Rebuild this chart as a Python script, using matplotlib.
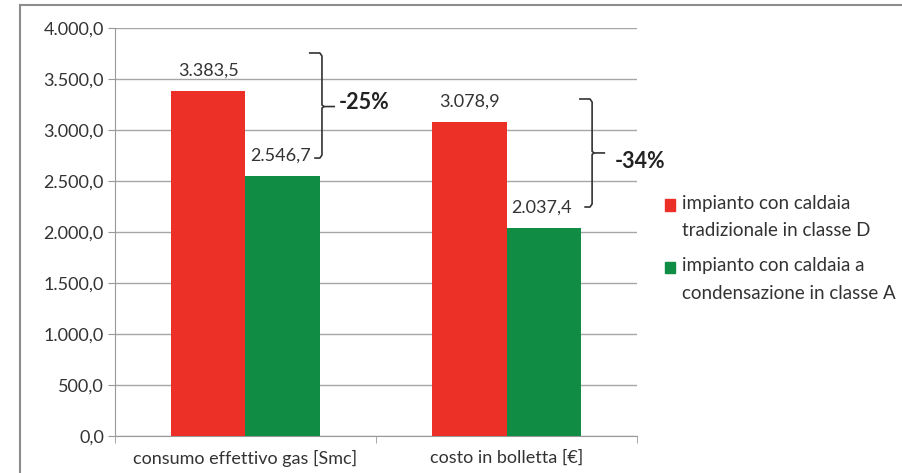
import matplotlib
matplotlib.use("Agg")
import matplotlib.pyplot as plt
from matplotlib.lines import Line2D
from matplotlib.patches import Rectangle
from matplotlib.legend_handler import HandlerPatch
import numpy as np

plt.rcParams['font.family'] = ['Lato', 'DejaVu Sans']

categories = ["consumo effettivo gas [Smc]", "costo in bolletta [€]"]
series_names = ["impianto con caldaia\ntradizionale in classe D",
                "impianto con caldaia a\ncondensazione in classe A"]
tradizionale = [3383.5, 3078.9]
condensazione = [2546.7, 2037.4]
reductions = ["-25%", "-34%"]
y_ticks = [0, 500, 1000, 1500, 2000, 2500, 3000, 3500, 4000]

red = "#ec3028"
green = "#108c44"


def fmt_it(v):
    # italian number format: 3.383,5
    s = "{:,.1f}".format(v)
    return s.replace(",", "X").replace(".", ",").replace("X", ".")


def top_square(legend, orig_handle, xdescent, ydescent, width, height, fontsize):
    # legend square next to the first line of a 2-line label
    return Rectangle((-xdescent, -ydescent + 9.0), width, height)


W, H = 903, 473
fig = plt.figure(figsize=(W / 100, H / 100), dpi=100)
ax = fig.add_axes([115 / W, 1 - 436 / H, (637 - 115) / W, (436 - 28) / H])

x = np.arange(len(categories))
bw = 0.285
ax.bar(x - bw / 2, tradizionale, bw, color=red, zorder=3)
ax.bar(x + bw / 2, condensazione, bw, color=green, zorder=3)

for i in range(len(categories)):
    ax.text(x[i] - bw / 2, tradizionale[i] + 120, fmt_it(tradizionale[i]),
            ha="center", va="bottom", fontsize=13, color="#333333")
    ax.text(x[i] + bw / 2 - 0.01, condensazione[i] + 120, fmt_it(condensazione[i]),
            ha="center", va="bottom", fontsize=13, color="#333333")

ax.set_xlim(-0.5, 1.5)
ax.set_ylim(0, 4000)
ax.set_yticks(y_ticks)
ax.set_yticklabels([fmt_it(v) for v in y_ticks], fontsize=13, color="#333333")
ax.set_xticks(x)
ax.set_xticklabels(categories, fontsize=13, color="#333333")
ax.tick_params(axis="x", length=0, pad=10)
ax.tick_params(axis="y", length=5, color="#999999", pad=3)
ax.set_xticks([-0.5, 0.5, 1.5], minor=True)
ax.tick_params(axis="x", which="minor", length=5, color="#999999", direction="out")
ax.yaxis.grid(True, color="#a6a6a6", lw=1, zorder=0)
for s in ["top", "right"]:
    ax.spines[s].set_visible(False)
ax.spines["left"].set_color("#999999")
ax.spines["bottom"].set_color("#999999")

# braces
brace_x = [0.293, 1.328]
brace_top = [3755, 3304]
brace_bot = [2725, 2245]
brace_mid = [3230, 2775]
label_y = [3270, 2690]
label_dx = [0.065, 0.085]
for i in range(2):
    bx, t, b, m = brace_x[i], brace_top[i], brace_bot[i], brace_mid[i]
    ax.plot([bx - 0.05, bx - 0.008, bx, bx, bx + 0.008, bx + 0.05],
            [t, t, t - 30, m + 15, m, m], color="#333333", lw=1.2,
            clip_on=False, zorder=4, solid_capstyle="butt")
    ax.plot([bx + 0.008, bx, bx, bx - 0.008, bx - 0.03],
            [m, m - 15, b + 30, b, b], color="#333333", lw=1.2,
            clip_on=False, zorder=4, solid_capstyle="butt")
    ax.text(bx + label_dx[i], label_y[i], reductions[i],
            ha="left", va="center", fontsize=15.5, fontweight="bold",
            color="#222222")

handles = [Rectangle((0, 0), 1, 1, color=red), Rectangle((0, 0), 1, 1, color=green)]
leg = fig.legend(handles, series_names, loc="upper left",
                 bbox_to_anchor=(665 / W, 1 - 195 / H), frameon=False,
                 fontsize=13.5, handlelength=0.55, handleheight=0.55,
                 handletextpad=0.35, labelspacing=0.95, labelcolor="#333333",
                 borderpad=0, borderaxespad=0,
                 handler_map={Rectangle: HandlerPatch(patch_func=top_square)})
for t in leg.get_texts():
    t.set_linespacing(1.75)

# outer frame
fig.add_artist(Line2D([20 / W, 1], [1 - 5 / H, 1 - 5 / H], color="#8c8c8c", lw=1.5))
fig.add_artist(Line2D([20 / W, 20 / W], [0, 1 - 5 / H], color="#8c8c8c", lw=1.5))

fig.savefig("out.png", dpi=100)
